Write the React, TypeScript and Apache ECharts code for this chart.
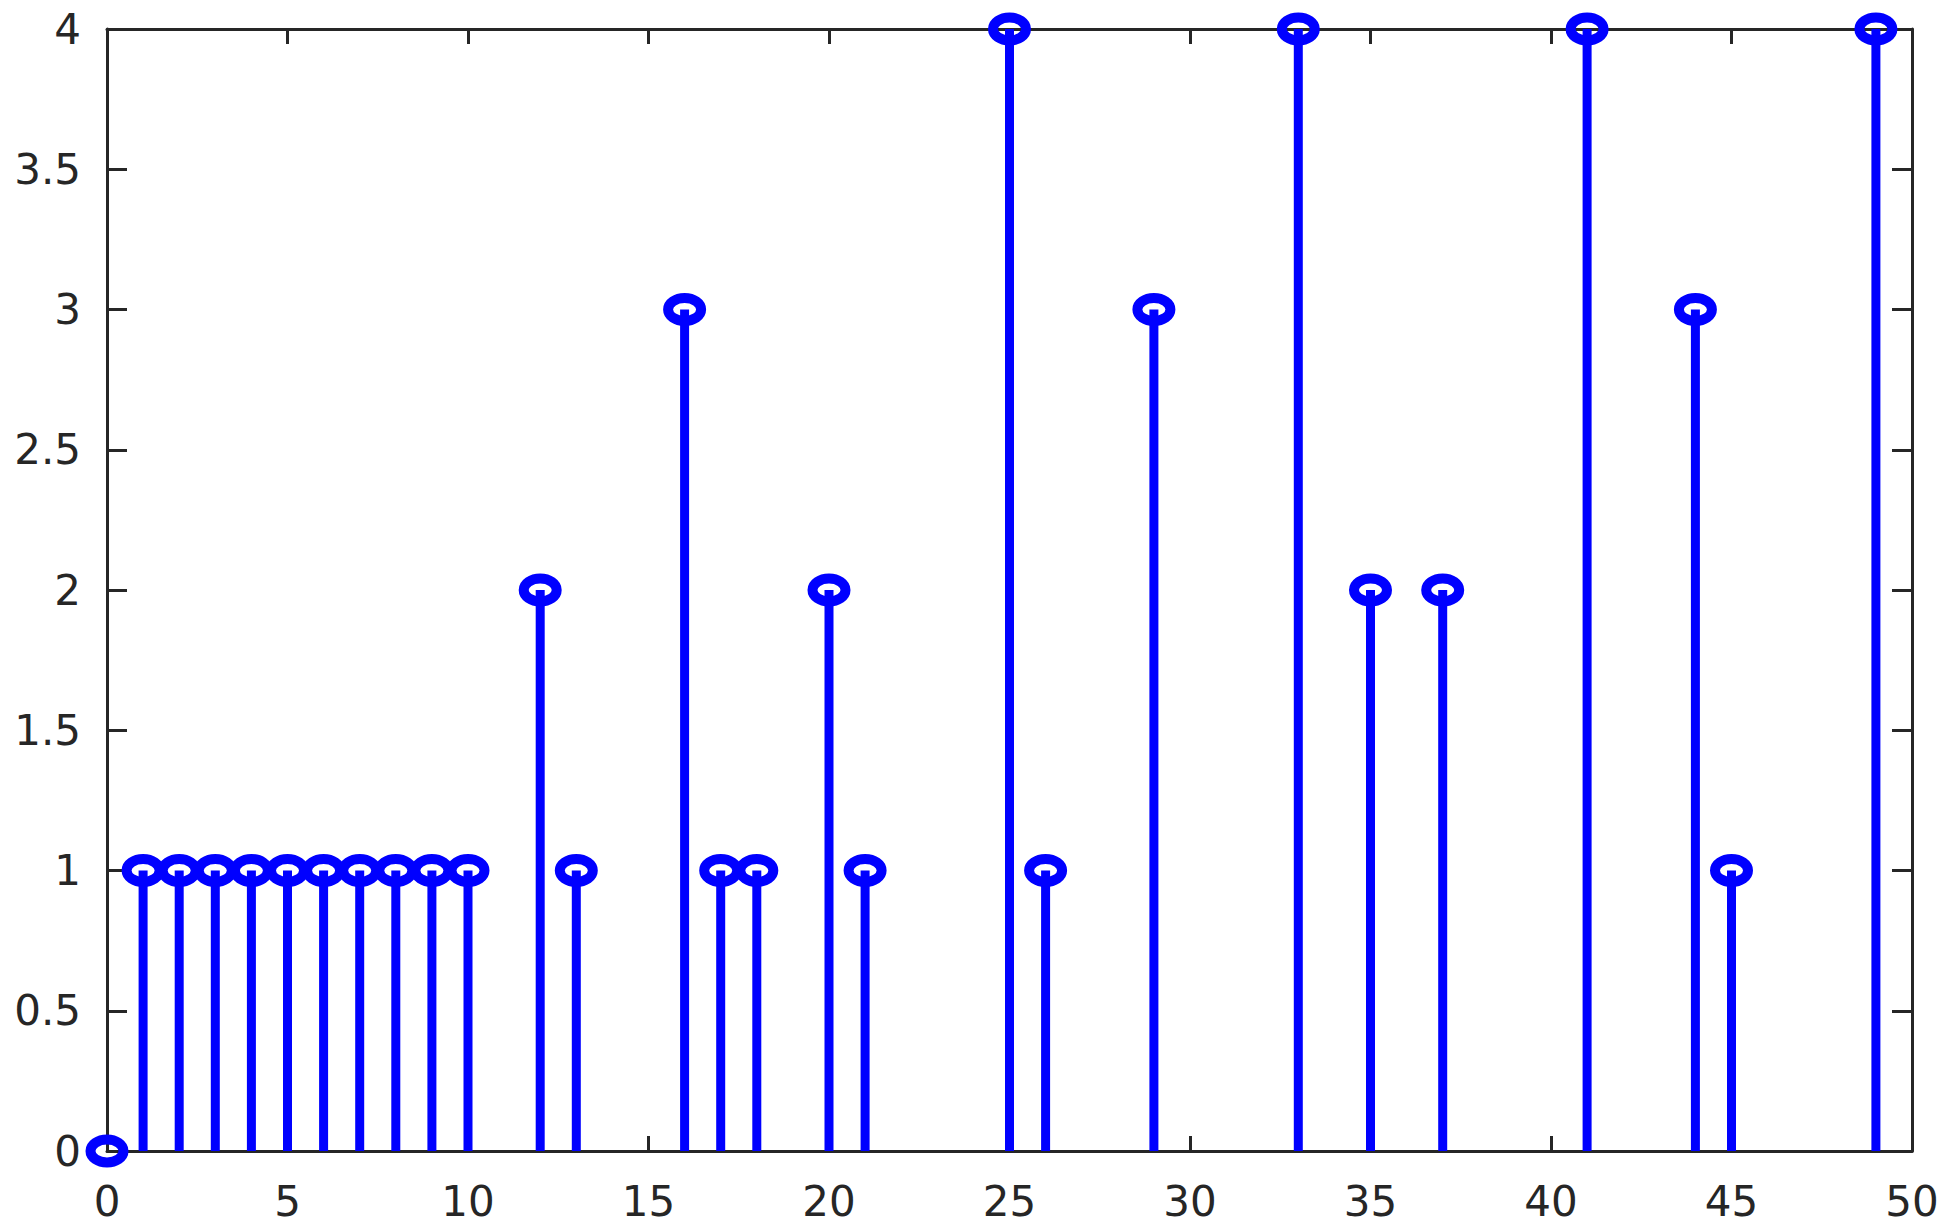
import React, { useEffect, useRef } from "react";
import * as echarts from "echarts";

const xValues = [0, 1, 2, 3, 4, 5, 6, 7, 8, 9, 10, 12, 13, 16, 17, 18, 20, 21, 25, 26, 29, 33, 35, 37, 41, 44, 45, 49];
const yValues = [0, 1, 1, 1, 1, 1, 1, 1, 1, 1, 1, 2, 1, 3, 1, 1, 2, 1, 4, 1, 3, 4, 2, 2, 4, 3, 1, 4];

const X_MIN = 0, X_MAX = 50, X_STEP = 5;
const Y_MIN = 0, Y_MAX = 4, Y_STEP = 0.5;

const AXIS_COLOR = "#262626";
const STEM_COLOR = "#0000ff";
const FONT = "DejaVu Sans";

export default function App() {
  const ref = useRef<HTMLDivElement>(null);
  useEffect(() => {
    if (!ref.current) return;
    const chart = echarts.init(ref.current, undefined, { renderer: "svg" });
    const data = xValues.map((x, i) => [x, yValues[i]]);
    const axisLine = { show: true, onZero: false, lineStyle: { color: AXIS_COLOR, width: 3 } };
    const xAxisBase = {
      type: "value" as const, min: X_MIN, max: X_MAX, interval: X_STEP,
      axisLine, splitLine: { show: false },
      axisTick: { show: true, inside: true, length: 15, lineStyle: { color: AXIS_COLOR, width: 3 } },
    };
    const yAxisBase = {
      type: "value" as const, min: Y_MIN, max: Y_MAX, interval: Y_STEP,
      axisLine, splitLine: { show: false },
      axisTick: { show: true, inside: true, length: 20, lineStyle: { color: AXIS_COLOR, width: 3 } },
    };
    chart.setOption({
      animation: false,
      backgroundColor: "#ffffff",
      grid: { left: 107, top: 29, width: 1805, height: 1122, containLabel: false },
      xAxis: [
        { ...xAxisBase, position: "bottom",
          axisLabel: { fontSize: 42, fontFamily: FONT, color: AXIS_COLOR, margin: 29 } },
        { ...xAxisBase, position: "top", axisLabel: { show: false } },
      ],
      yAxis: [
        { ...yAxisBase, position: "left",
          axisLabel: { fontSize: 42, fontFamily: FONT, color: AXIS_COLOR, margin: 26 } },
        { ...yAxisBase, position: "right", axisLabel: { show: false } },
      ],
      series: [
        {
          type: "custom",
          xAxisIndex: 0,
          yAxisIndex: 0,
          clip: false,
          data,
          renderItem: (params: any, api: any) => {
            const x = api.value(0);
            const y = api.value(1);
            const base = api.coord([x, 0]);
            const top = api.coord([x, y]);
            return {
              type: "group",
              children: [
                {
                  type: "line",
                  shape: { x1: base[0], y1: base[1], x2: top[0], y2: top[1] },
                  style: { stroke: STEM_COLOR, lineWidth: 9 },
                },
                {
                  type: "ellipse",
                  shape: { cx: top[0], cy: top[1], rx: 16.5, ry: 11.5 },
                  style: { fill: "none", stroke: STEM_COLOR, lineWidth: 10 },
                },
              ],
            };
          },
        },
      ],
    });
    return () => chart.dispose();
  }, []);
  return (
    <div
      ref={ref}
      style={{ position: "fixed", left: 0, top: 0, width: "1947px", height: "1231px", background: "#fff" }}
    />
  );
}
